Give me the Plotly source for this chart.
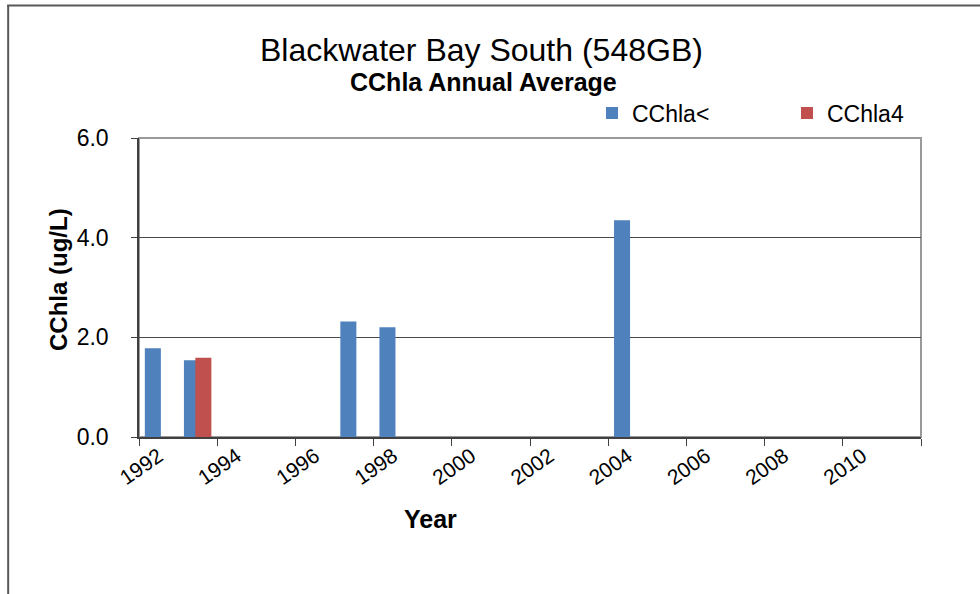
import plotly.graph_objects as go

years = [str(y) for y in range(1992, 2012)]
cchla_lt = [1.78, 1.54, None, None, None, 2.32, 2.20, None, None, None,
            None, None, 4.35, None, None, None, None, None, None, None]
cchla_4 = [None, 1.59, None, None, None, None, None, None, None, None,
           None, None, None, None, None, None, None, None, None, None]

BLUE = "#4F81BD"
RED = "#C0504D"
FONT = "Liberation Sans, Arial, sans-serif"

W, H = 980, 594
L, R, T, B = 138.5, 921.5, 137.5, 436.7
pw, ph = R - L, B - T

def px(x):
    return (x - L) / pw

def py(y):
    return (B - y) / ph

fig = go.Figure()
fig.add_trace(go.Bar(x=years, y=cchla_lt, name="CChla<", marker=dict(color=BLUE, line=dict(width=0)),
                     width=0.41, offset=-0.351))
fig.add_trace(go.Bar(x=years, y=cchla_4, name="CChla4", marker=dict(color=RED, line=dict(width=0)),
                     width=0.41, offset=-0.059))

fig.update_layout(
    width=W, height=H,
    margin=dict(l=L, r=W - R, t=T, b=H - B, pad=0, autoexpand=False),
    paper_bgcolor="white", plot_bgcolor="white",
    barmode="overlay",
    font=dict(family=FONT, color="black"),
    showlegend=True,
    legend=dict(orientation="h", xref="container", yref="container",
                x=592 / W, y=1 - 113 / H, xanchor="left", yanchor="middle",
                font=dict(size=23, family=FONT), entrywidth=150, entrywidthmode="pixels",
                bgcolor="rgba(0,0,0,0)", traceorder="normal"),
    xaxis=dict(type="category", categoryorder="array", categoryarray=years,
               range=[-0.5, 19.5], dtick=2, tick0=0, tickson="boundaries",
               ticks="outside", ticklen=7, tickcolor="#404040", tickwidth=1,
               showline=True, linecolor="#404040", linewidth=1.5,
               showgrid=False, tickangle=-35, tickfont=dict(size=21, family=FONT),
               ticklabelstandoff=-3),
    yaxis=dict(range=[0, 6], dtick=2, tick0=0, tickformat=".1f",
               ticks="outside", ticklen=6, tickcolor="#404040",
               showline=True, linecolor="#404040", linewidth=1.5,
               showgrid=True, gridcolor="#4a4a4a", gridwidth=1,
               zeroline=False, tickfont=dict(size=23, family=FONT),
               ticklabelstandoff=18),
)

fig.add_shape(type="rect", xref="paper", yref="paper", x0=0, x1=1, y0=0, y1=1,
              line=dict(color="#9a9a9a", width=2), layer="below")
# outer chart frame (clipped at the right and bottom in the reference)
fig.add_shape(type="line", xref="paper", yref="paper", x0=px(7.5), x1=px(7.5), y0=py(4.5), y1=py(600),
              line=dict(color="#595959", width=2))
fig.add_shape(type="line", xref="paper", yref="paper", x0=px(6.5), x1=px(990), y0=py(5), y1=py(5),
              line=dict(color="#595959", width=2))

fig.add_annotation(text="Blackwater Bay South (548GB)", xref="paper", yref="paper",
                   x=px(481), y=py(49), showarrow=False, xanchor="center", yanchor="middle",
                   font=dict(size=32, family=FONT))
fig.add_annotation(text="<b>CChla Annual Average</b>", xref="paper", yref="paper",
                   x=px(483), y=py(81), showarrow=False, xanchor="center", yanchor="middle",
                   font=dict(size=25, family=FONT))
fig.add_annotation(text="<b>CChla (ug/L)</b>", xref="paper", yref="paper",
                   x=px(58), y=py(279), showarrow=False, textangle=-90,
                   xanchor="center", yanchor="middle", font=dict(size=24, family=FONT))
fig.add_annotation(text="<b>Year</b>", xref="paper", yref="paper",
                   x=px(430), y=py(519), showarrow=False, xanchor="center", yanchor="middle",
                   font=dict(size=25, family=FONT))

fig.write_html("out.html", config={"displayModeBar": False},
               post_script="document.body.style.margin='0px';")
